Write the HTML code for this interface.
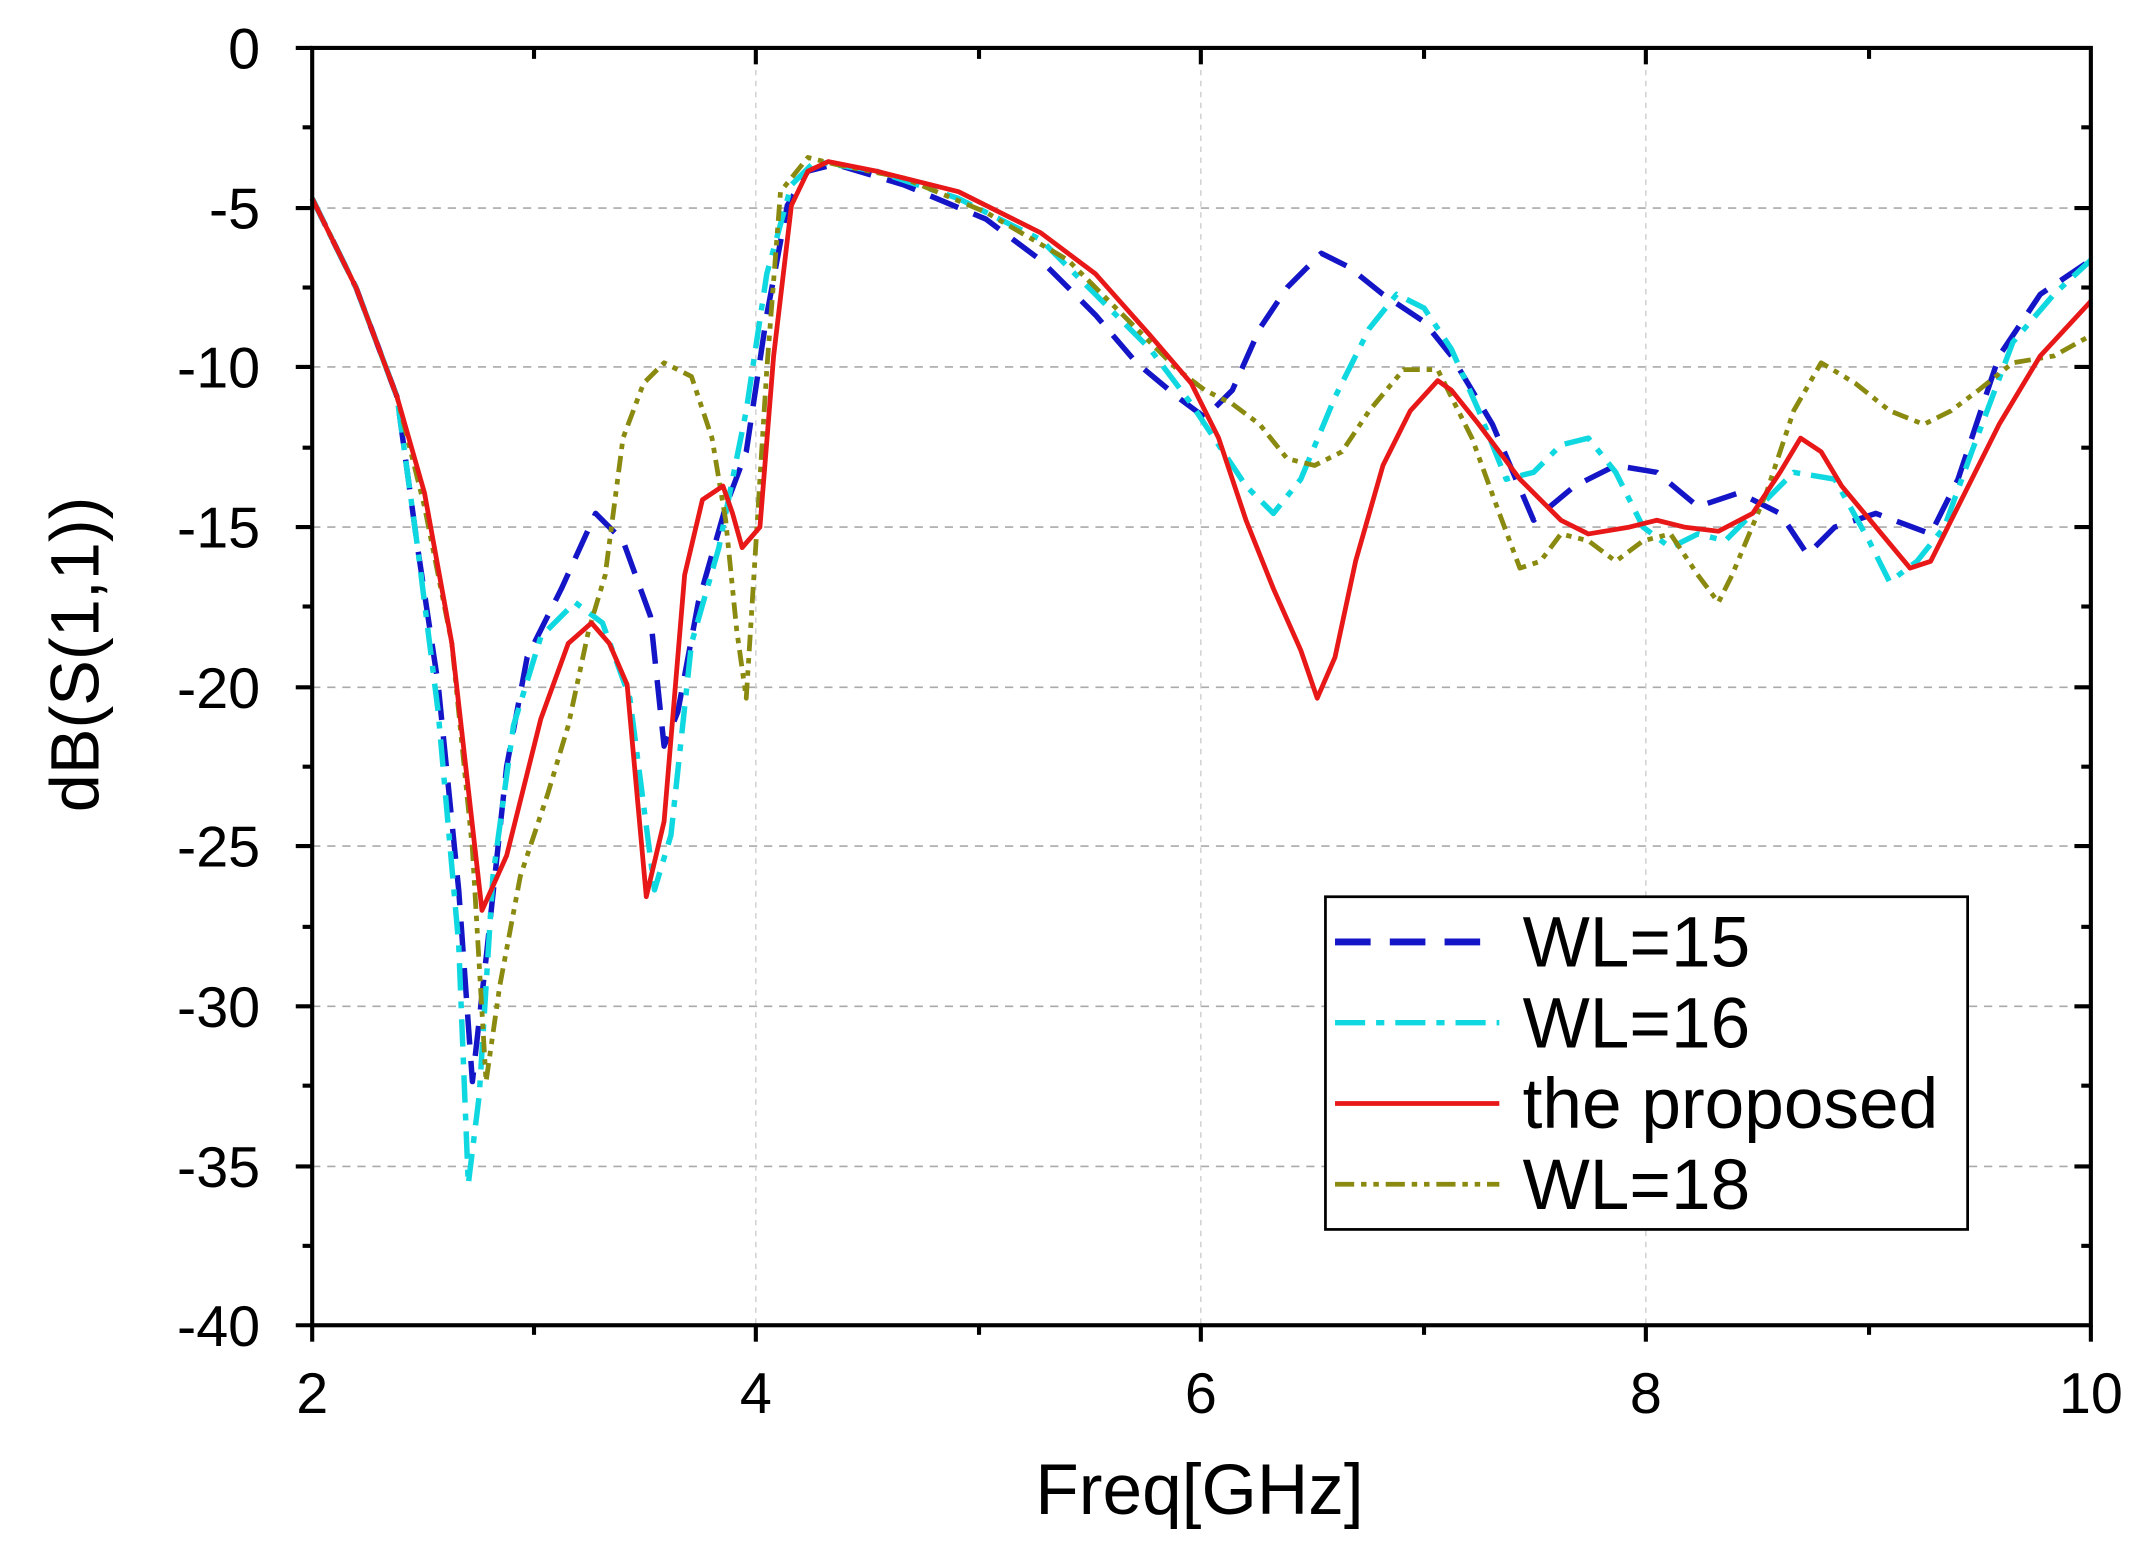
<!DOCTYPE html>
<html><head><meta charset="utf-8"><style>html,body{margin:0;padding:0;background:#fff}svg{display:block}</style></head>
<body>
<svg width="2147" height="1558" viewBox="0 0 1568 1138" preserveAspectRatio="none" xmlns="http://www.w3.org/2000/svg" font-family="Liberation Sans, Arial, sans-serif">
<rect width="1568" height="1138" fill="#fff"/>
<g stroke="#aaa" stroke-width="1.2" stroke-dasharray="6,5">
<line x1="228" y1="152" x2="1527" y2="152"/><line x1="228" y1="268" x2="1527" y2="268"/>
<line x1="228" y1="385" x2="1527" y2="385"/><line x1="228" y1="502" x2="1527" y2="502"/>
<line x1="228" y1="618" x2="1527" y2="618"/><line x1="228" y1="735" x2="1527" y2="735"/>
<line x1="228" y1="852" x2="1527" y2="852"/>
</g>
<g stroke="#ccc" stroke-width="1" stroke-dasharray="4,4">
<line x1="552" y1="35" x2="552" y2="968"/><line x1="877" y1="35" x2="877" y2="968"/><line x1="1202" y1="35" x2="1202" y2="968"/>
</g>
<g fill="none" stroke-width="4" stroke-linejoin="round">
<polyline stroke="#1515c8" stroke-dasharray="22,12" points="228,145 260,210 290,290 305,400 320,500 335,650 345,790 355,700 370,560 385,480 410,430 435,375 455,395 475,450 485,545 495,520 510,440 530,370 545,330 560,230 575,150 590,125 610,120 660,135 720,160 760,190 800,230 830,265 860,290 880,305 900,285 920,240 940,210 965,185 985,195 1010,215 1040,235 1060,260 1090,310 1120,380 1150,355 1180,340 1210,345 1240,370 1270,360 1300,375 1320,405 1340,385 1370,375 1410,390 1430,350 1460,260 1490,215 1527,190"/>
<polyline stroke="#10d8e0" stroke-dasharray="20,8,5,8" points="228,145 260,210 290,290 305,400 320,520 335,690 342,865 350,800 360,640 375,530 395,465 420,440 440,455 460,510 478,650 490,610 505,470 525,400 545,300 560,200 578,135 595,118 640,125 700,145 760,175 800,215 840,255 870,295 890,325 910,355 930,375 950,350 975,290 1000,240 1020,215 1040,225 1060,255 1080,300 1100,350 1120,345 1140,325 1160,320 1180,345 1200,385 1220,400 1240,390 1260,395 1290,365 1310,345 1340,350 1365,395 1380,425 1400,410 1420,385 1440,330 1470,250 1500,215 1527,190"/>
<polyline stroke="#8a8a10" stroke-width="3.5" stroke-dasharray="12,5,4,5,4,5" points="228,145 260,210 290,290 310,370 330,470 345,620 355,790 365,720 380,640 400,580 415,530 430,460 442,420 455,320 470,280 485,265 505,275 520,320 530,380 538,460 545,510 550,430 560,270 570,140 590,115 610,120 660,130 720,155 780,190 830,240 860,270 880,285 900,295 920,310 940,335 960,340 980,330 1000,300 1025,270 1050,270 1075,320 1095,375 1110,415 1125,410 1140,390 1160,395 1180,410 1200,395 1220,390 1240,420 1255,440 1265,420 1290,360 1310,300 1330,265 1355,280 1380,300 1405,310 1425,300 1445,285 1470,265 1500,260 1527,245"/>
<polyline stroke="#e81818" stroke-width="3.5" points="228,145 260,210 290,290 310,360 330,470 352,665 370,625 395,525 415,470 432,455 445,470 458,500 472,655 485,600 500,420 513,365 528,355 535,375 542,400 555,385 565,260 578,150 590,125 605,118 640,125 700,140 760,170 800,200 840,245 870,280 890,320 910,380 930,430 950,475 962,510 975,480 990,410 1010,340 1030,300 1050,278 1060,285 1080,310 1110,350 1140,380 1160,390 1190,385 1210,380 1230,385 1255,388 1280,375 1300,345 1315,320 1330,330 1345,355 1370,385 1395,415 1410,410 1430,370 1460,310 1490,260 1527,220"/>
</g>
<rect x="228" y="35" width="1299" height="933" fill="none" stroke="#000" stroke-width="3"/>
<g stroke="#000" stroke-width="3">
<line x1="216" y1="35" x2="228" y2="35"/><line x1="216" y1="152" x2="228" y2="152"/><line x1="216" y1="268" x2="228" y2="268"/><line x1="216" y1="385" x2="228" y2="385"/><line x1="216" y1="502" x2="228" y2="502"/><line x1="216" y1="618" x2="228" y2="618"/><line x1="216" y1="735" x2="228" y2="735"/><line x1="216" y1="852" x2="228" y2="852"/><line x1="216" y1="968" x2="228" y2="968"/>
<line x1="221" y1="93" x2="228" y2="93"/><line x1="221" y1="210" x2="228" y2="210"/><line x1="221" y1="327" x2="228" y2="327"/><line x1="221" y1="443" x2="228" y2="443"/><line x1="221" y1="560" x2="228" y2="560"/><line x1="221" y1="677" x2="228" y2="677"/><line x1="221" y1="793" x2="228" y2="793"/><line x1="221" y1="910" x2="228" y2="910"/>
<line x1="1527" y1="93" x2="1520" y2="93"/><line x1="1527" y1="152" x2="1515" y2="152"/><line x1="1527" y1="210" x2="1520" y2="210"/><line x1="1527" y1="268" x2="1515" y2="268"/><line x1="1527" y1="327" x2="1520" y2="327"/><line x1="1527" y1="385" x2="1515" y2="385"/><line x1="1527" y1="443" x2="1520" y2="443"/><line x1="1527" y1="502" x2="1515" y2="502"/><line x1="1527" y1="560" x2="1520" y2="560"/><line x1="1527" y1="618" x2="1515" y2="618"/><line x1="1527" y1="677" x2="1520" y2="677"/><line x1="1527" y1="735" x2="1515" y2="735"/><line x1="1527" y1="793" x2="1520" y2="793"/><line x1="1527" y1="852" x2="1515" y2="852"/><line x1="1527" y1="910" x2="1520" y2="910"/>
<line x1="228" y1="968" x2="228" y2="980"/><line x1="552" y1="968" x2="552" y2="980"/><line x1="877" y1="968" x2="877" y2="980"/><line x1="1202" y1="968" x2="1202" y2="980"/><line x1="1527" y1="968" x2="1527" y2="980"/>
<line x1="390" y1="968" x2="390" y2="975"/><line x1="715" y1="968" x2="715" y2="975"/><line x1="1040" y1="968" x2="1040" y2="975"/><line x1="1365" y1="968" x2="1365" y2="975"/>
<line x1="390" y1="35" x2="390" y2="43"/><line x1="552" y1="35" x2="552" y2="47"/><line x1="715" y1="35" x2="715" y2="43"/><line x1="877" y1="35" x2="877" y2="47"/><line x1="1040" y1="35" x2="1040" y2="43"/><line x1="1202" y1="35" x2="1202" y2="47"/><line x1="1365" y1="35" x2="1365" y2="43"/>
</g>
<g font-size="42" text-anchor="end" fill="#000">
<text x="190" y="50">0</text><text x="190" y="167">-5</text><text x="190" y="283">-10</text><text x="190" y="400">-15</text><text x="190" y="517">-20</text><text x="190" y="633">-25</text><text x="190" y="750">-30</text><text x="190" y="867">-35</text><text x="190" y="983">-40</text>
</g>
<g font-size="42" text-anchor="middle" fill="#000">
<text x="228" y="1032">2</text><text x="552" y="1032">4</text><text x="877" y="1032">6</text><text x="1202" y="1032">8</text><text x="1527" y="1032">10</text>
</g>
<text x="876" y="1106" font-size="52" text-anchor="middle">Freq[GHz]</text>
<text transform="translate(72,478) rotate(-90)" font-size="50" text-anchor="middle">dB(S(1,1))</text>
<rect x="968" y="655" width="469" height="243" fill="#fff" stroke="#000" stroke-width="2"/>
<line x1="975" y1="688" x2="1095" y2="688" stroke="#1515c8" stroke-width="5" stroke-dasharray="26,14"/>
<line x1="975" y1="747" x2="1095" y2="747" stroke="#10d8e0" stroke-width="4" stroke-dasharray="22,8,6,8"/>
<line x1="975" y1="806" x2="1095" y2="806" stroke="#e81818" stroke-width="3.5"/>
<line x1="975" y1="865" x2="1095" y2="865" stroke="#8a8a10" stroke-width="3.5" stroke-dasharray="14,5,4,5,4,5"/>
<g font-size="52" fill="#000">
<text x="1112" y="706">WL=15</text><text x="1112" y="765">WL=16</text><text x="1112" y="824">the proposed</text><text x="1112" y="883">WL=18</text>
</g>
</svg>
</body></html>
